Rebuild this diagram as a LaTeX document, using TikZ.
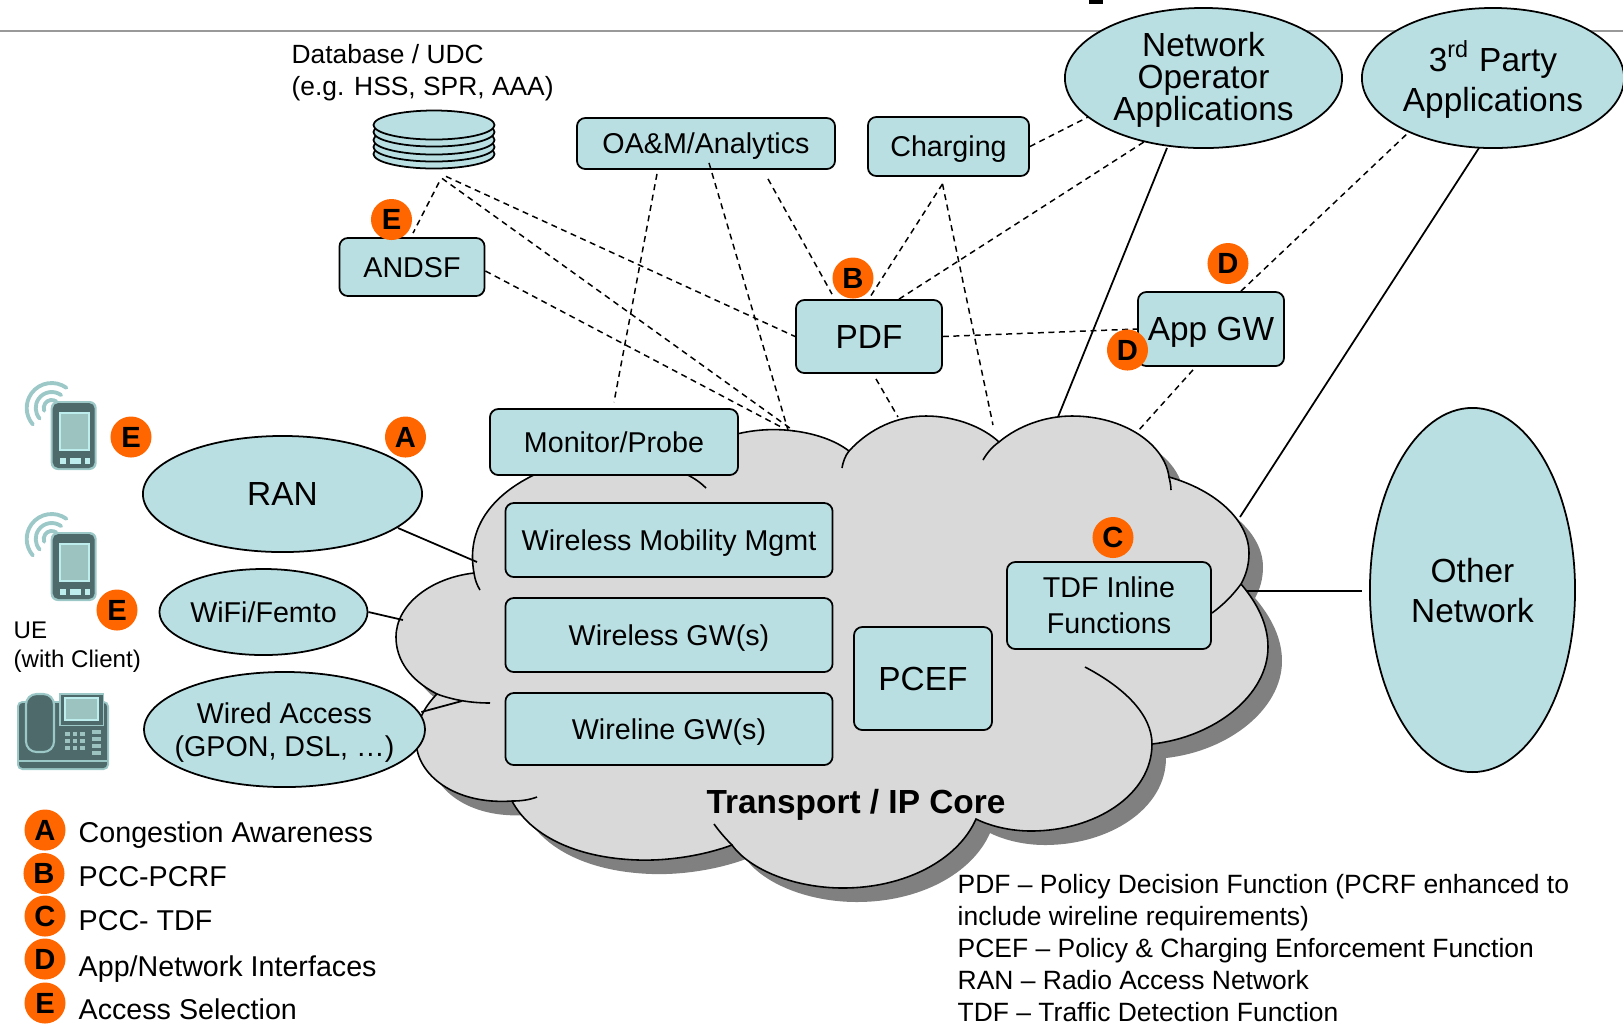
\documentclass[tikz,border=0pt]{standalone}
\usepackage{fontspec}
\setmainfont{Liberation Sans}
\usetikzlibrary{shapes.geometric}

\definecolor{netblue}{HTML}{B9DFE3}
\definecolor{badgeorange}{HTML}{FF6600}
\definecolor{cloudgray}{HTML}{D9D9D9}
\definecolor{cloudshade}{HTML}{808080}
\definecolor{icondark}{HTML}{4F6A6B}
\definecolor{iconhalo}{HTML}{9CC8C8}
\definecolor{iconscreen}{HTML}{9DC3C1}
\definecolor{iconlight}{HTML}{BDEDED}

% one lobe of the cloud per line
\newcommand{\coreoutline}{
  (474,573) .. controls (466,530) and (490,495) .. (538,473) .. controls (580,452) and (640,450) .. (675,470)
  .. controls (700,440) and (745,427) .. (785,430) .. controls (812,432) and (835,440) .. (849,451)
  .. controls (870,428) and (898,416) .. (926,416) .. controls (955,416) and (983,427) .. (999,442)
  .. controls (1018,426) and (1045,416) .. (1072,416) .. controls (1125,416) and (1165,445) .. (1169,477)
  .. controls (1215,490) and (1249,520) .. (1249,553) .. controls (1249,565) and (1246,575) .. (1241,584)
  .. controls (1258,604) and (1268,625) .. (1268,647) .. controls (1268,695) and (1215,737) .. (1152,744)
  .. controls (1152,795) and (1095,831) .. (1031,831) .. controls (1010,831) and (990,826) .. (976,819)
  .. controls (958,860) and (905,888) .. (843,888) .. controls (795,888) and (750,870) .. (732,845)
  .. controls (705,855) and (670,861) .. (638,860) .. controls (575,858) and (530,835) .. (512,801)
  .. controls (455,805) and (416,775) .. (416,740) .. controls (416,722) and (425,706) .. (437,694)
  .. controls (410,680) and (396,660) .. (396,637) .. controls (396,605) and (430,578) .. (474,573)
}

% handheld with radio waves, corner at top left of the body
\newcommand{\handheld}[2]{
  \begin{scope}[shift={(#1,#2)}]
    \draw[iconhalo, line width=1.1pt, line cap=round] (-1,5) ++(-54:25) arc[start angle=-54, end angle=-221, radius=25];
    \draw[iconhalo, line width=1.1pt, line cap=round] (-1,5) ++(-54:16) arc[start angle=-54, end angle=-221, radius=16];
    \draw[iconhalo, line width=1.1pt, line cap=round] (-1,5) ++(-54:8) arc[start angle=-54, end angle=-200, radius=8];
    \fill[iconhalo, rounded corners=2pt] (-2,-2) rectangle (44,67);
    \fill[icondark, rounded corners=1.6pt] (0,0) rectangle (42,65);
    \fill[iconlight] (6,9) rectangle (37,48);
    \fill[iconscreen] (8,11) rectangle (35,46);
    \fill[iconlight] (7,55) rectangle (13,61);
    \fill[iconlight] (17,55) rectangle (28,61);
    \fill[iconlight] (32,55) rectangle (37,61);
  \end{scope}
}

\begin{document}
\begin{tikzpicture}[x=0.01cm, y=-0.01cm,
    netbox/.style={draw, fill=netblue, rounded corners=2.4pt, inner sep=0pt, align=center, line width=0.5pt, text depth=0pt},
    netell/.style={draw, fill=netblue, ellipse, inner sep=0pt, align=center, line width=0.5pt, text depth=0pt},
    badge/.style={circle, fill=badgeorange, minimum size=0.41cm, inner sep=0pt, font=\fontsize{8.3pt}{10pt}\selectfont\bfseries},
    bigtext/.style={font=\fontsize{9.5pt}{9.1pt}\selectfont},
    midtext/.style={font=\fontsize{8.15pt}{9.4pt}\selectfont},
    legendtext/.style={anchor=base west, inner sep=0pt, font=\fontsize{8.15pt}{10pt}\selectfont},
    notetext/.style={anchor=base west, inner sep=0pt, font=\fontsize{7.52pt}{9pt}\selectfont},
    dashline/.style={dash pattern=on 1.7pt off 1.3pt, line width=0.42pt},
    solidline/.style={line width=0.5pt},
    coreline/.style={line width=0.45pt}]
  \useasboundingbox (0,0) rectangle (1623,1023);

  \draw[gray!80, line width=0.4pt] (0,31) -- (1623,31);
  \fill (1089,0) rectangle (1103,4);

  % the cloud
  \fill[cloudshade, shift={(14,14)}] \coreoutline -- cycle;
  \fill[cloudgray] \coreoutline -- cycle;
  \draw[coreline] \coreoutline -- cycle;
  \draw[coreline] (474,573) .. controls (475,580) and (477,585) .. (480,590);
  \draw[coreline] (675,470) .. controls (688,474) and (698,480) .. (706,488);
  \draw[coreline] (849,451) .. controls (845,456) and (843,462) .. (842,468);
  \draw[coreline] (999,442) .. controls (992,447) and (987,453) .. (983,460);
  \draw[coreline] (1169,477) .. controls (1170,481) and (1171,486) .. (1171,490);
  \draw[coreline] (1241,584) .. controls (1233,595) and (1223,605) .. (1212,613);
  \draw[coreline] (1085,667) .. controls (1125,688) and (1152,715) .. (1152,744);
  \draw[coreline] (732,845) .. controls (725,838) and (719,831) .. (714,824);
  \draw[coreline] (512,801) .. controls (521,801) and (529,800) .. (537,797);
  \draw[coreline] (437,694) .. controls (453,700) and (471,703) .. (490,703);

  \coordinate (coreRan) at (477,562);
  \coordinate (coreWifi) at (403,620);
  \coordinate (coreWired) at (462,701);
  \coordinate (coreOther) at (1247,591);
  \coordinate (coreThird) at (1240,517);
  \coordinate (coreNetop) at (1058,417);
  \coordinate (coreApp) at (1138,431);
  \coordinate (coreCharging) at (993,425);
  \coordinate (corePdf) at (898,417);
  \coordinate (coreOam) at (788,430);
  \coordinate (coreDb) at (794,431);
  \coordinate (coreAndsf) at (783,428);

  % access side
  \node[netell, bigtext, minimum width=2.79cm, minimum height=1.16cm] (ran) at (282.5,494) {RAN};
  \node[netell, midtext, minimum width=2.08cm, minimum height=.86cm] (wifi) at (263.5,612) {WiFi/Femto};
  \node[netell, midtext, inner xsep=-3pt, minimum width=2.76cm, minimum height=1.15cm] (wired) at (284.5,729.5) {Wired Access\\(GPON, DSL, …)};

  % inside the cloud
  \node[netbox, midtext, minimum width=2.48cm, minimum height=.66cm] (monitor) at (614,442) {Monitor/Probe};
  \node[netbox, midtext, minimum width=3.27cm, minimum height=.74cm] (mobility) at (669,540) {Wireless Mobility Mgmt};
  \node[netbox, midtext, minimum width=3.27cm, minimum height=.74cm] (wirelessgw) at (669,635) {Wireless GW(s)};
  \node[netbox, midtext, minimum width=3.27cm, minimum height=.72cm] (wirelinegw) at (669,729) {Wireline GW(s)};
  \node[netbox, bigtext, minimum width=1.38cm, minimum height=1.03cm] (pcef) at (923,678.5) {PCEF};
  \node[netbox, midtext, text depth=-1pt, minimum width=2.04cm, minimum height=.87cm, font=\fontsize{8.15pt}{10.2pt}\selectfont] (tdf) at (1109,605.5) {TDF Inline\\Functions};
  \node[text depth=0pt, font=\fontsize{9.5pt}{11pt}\selectfont\bfseries] (core) at (856,801) {Transport / IP Core};

  % upper row
  \foreach \y in {154,147,140,132,125}
    \node[netell, minimum width=1.21cm, minimum height=.29cm] (disc\y) at (434,\y) {};
  \node[netbox, midtext, minimum width=1.45cm, minimum height=.58cm] (andsf) at (412,267) {ANDSF};
  \node[netbox, midtext, minimum width=2.58cm, minimum height=.51cm] (oam) at (706,143.5) {OA\&M/Analytics};
  \node[netbox, midtext, minimum width=1.61cm, minimum height=.59cm] (charging) at (948.5,146.5) {Charging};
  \node[netbox, bigtext, minimum width=1.46cm, minimum height=.73cm] (pdf) at (869,336.5) {PDF};
  \node[netbox, bigtext, minimum width=1.46cm, minimum height=.74cm] (appgw) at (1211,329) {App GW};
  \node[netell, bigtext, text depth=1.2pt, minimum width=2.77cm, minimum height=1.4cm] (netop) at (1203.5,78) {Network\\Operator\\Applications};
  \node[netell, text depth=1.2pt, font=\fontsize{9.5pt}{11.4pt}\selectfont, minimum width=2.62cm, minimum height=1.4cm] (third) at (1493,78) {3\textsuperscript{rd} Party\\Applications};
  \node[netell, text depth=-1pt, font=\fontsize{9.5pt}{11.4pt}\selectfont, minimum width=2.05cm, minimum height=3.64cm] (other) at (1472.5,590) {Other\\Network};

  % connectors
  \draw[solidline] ([shift={(-25,34)}]ran.east) -- (coreRan);
  \draw[solidline] (wifi.east) -- (coreWifi);
  \draw[solidline] ([shift={(-4.5,-17.5)}]wired.east) -- (coreWired);
  \draw[solidline] ([shift={(-36.5,-1)}]netop.south) -- (coreNetop);
  \draw[solidline] ([shift={(-14,-1)}]third.south) -- (coreThird);
  \draw[line width=0.8pt] (coreOther) -- ([shift={(-7,1)}]other.west);
  \draw[dashline] (charging.east) -- ([shift={(24,39)}]netop.west);
  \draw[dashline] ([shift={(30,0)}]pdf.north) -- ([shift={(-59.5,-7)}]netop.south);
  \draw[dashline] ([shift={(30,0)}]appgw.north) -- ([shift={(-85,-16)}]third.south);
  \draw[dashline] (pdf.east) -- (appgw.west);
  \draw[dashline] ([shift={(-18,3)}]appgw.south) -- (coreApp);
  \draw[dashline] ([shift={(-6,7)}]charging.south) -- ([shift={(1,-2)}]pdf.north);
  \draw[dashline] ([shift={(-6,7)}]charging.south) -- (coreCharging);
  \draw[dashline] ([shift={(62,9)}]oam.south) -- ([shift={(-37,-5)}]pdf.north);
  \draw[dashline] ([shift={(3,-7)}]oam.south) -- (coreOam);
  \draw[dashline] ([shift={(-49,4)}]oam.south) -- ([shift={(0,-6)}]monitor.north);
  \draw[dashline] ([shift={(5,13)}]disc154.south) -- ([shift={(1,-4)}]andsf.north);
  \draw[dashline] ([shift={(12,7)}]disc154.south) -- (pdf.west);
  \draw[dashline] ([shift={(8,9)}]disc154.south) -- (coreDb);
  \draw[dashline] ([shift={(0,4)}]andsf.east) -- (coreAndsf);
  \draw[dashline] ([shift={(7,5)}]pdf.south) -- (corePdf);

  % badges
  \node[badge] (badgeAran) at (405.5,437) {A};
  \node[badge] (badgeBpdf) at (853,278) {B};
  \node[badge] (badgeCtdf) at (1113,537.5) {C};
  \node[badge] (badgeDtop) at (1228,263.5) {D};
  \node[badge] (badgeDlow) at (1127.5,350) {D};
  \node[badge] (badgeEone) at (131,437) {E};
  \node[badge] (badgeEtwo) at (117,610) {E};
  \node[badge] (badgeEand) at (391.5,219.5) {E};

  % devices
  \handheld{52.7}{403}
  \handheld{52.7}{534}
  \begin{scope}[shift={(10,685)}]
    \fill[iconhalo, rounded corners=1.5pt] (7,16) rectangle (99,85);
    \fill[icondark, rounded corners=1pt] (9,18) rectangle (97,83);
    \fill[iconhalo] (9,75) rectangle (97,76.5);
    \draw[iconhalo, fill=icondark, rounded corners=3pt, line width=0.6pt] (16,9) rectangle (44,67);
    \fill[iconhalo] (49,8) rectangle (94,41);
    \fill[icondark] (50.5,9.5) rectangle (92.5,39.5);
    \fill[iconlight] (54,12) rectangle (89,36);
    \fill[iconscreen] (56,14) rectangle (87,34);
    \foreach \i in {0,1,2} \foreach \j in {0,1,2}
      \fill[iconscreen] (55+7.5*\i,47+7*\j) rectangle +(4.5,4);
    \foreach \j in {0,1,2,3}
      \fill[iconscreen] (82,45+7*\j) rectangle +(9,4);
  \end{scope}

  % texts without a box
  \node[anchor=west, inner sep=0pt, align=left, font=\fontsize{7.5pt}{9.1pt}\selectfont] (dbtext) at (291,73) {Database / UDC\\(e.g. HSS, SPR, AAA)};
  \node[anchor=west, inner sep=0pt, align=left, font=\fontsize{6.85pt}{8.3pt}\selectfont] (uetext) at (13,647) {UE\\(with Client)};

  % legend
  \node[badge] (keyA) at (45,830) {A};
  \node[badge] (keyB) at (44,873.5) {B};
  \node[badge] (keyC) at (45,916) {C};
  \node[badge] (keyD) at (45,959) {D};
  \node[badge] (keyE) at (45,1003) {E};
  \node[legendtext] (textA) at (78,842.5) {Congestion Awareness};
  \node[legendtext] (textB) at (78,886.5) {PCC-PCRF};
  \node[legendtext] (textC) at (78,930.5) {PCC- TDF};
  \node[legendtext] (textD) at (78,976) {App/Network Interfaces};
  \node[legendtext] (textE) at (78,1019) {Access Selection};

  \node[notetext] (notePdf) at (957,893) {PDF – Policy Decision Function (PCRF enhanced to};
  \node[notetext] (noteWire) at (957,925) {include wireline requirements)};
  \node[notetext] (notePcef) at (957,957) {PCEF – Policy \& Charging Enforcement Function};
  \node[notetext] (noteRan) at (957,989) {RAN – Radio Access Network};
  \node[notetext] (noteTdf) at (957,1021) {TDF – Traffic Detection Function};
\end{tikzpicture}
\end{document}
